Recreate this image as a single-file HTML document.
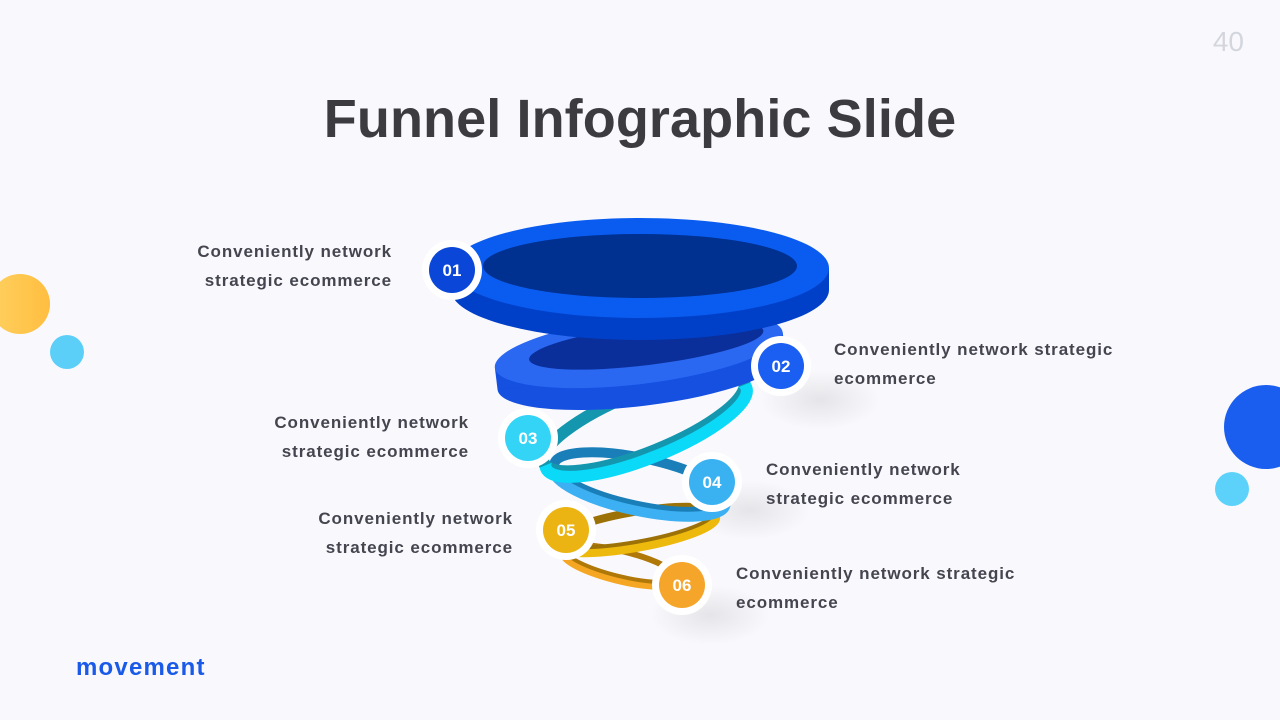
<!DOCTYPE html>
<html><head><meta charset="utf-8"><style>
html,body{margin:0;padding:0}
body{width:1280px;height:720px;background:#f9f9fd;position:relative;overflow:hidden;font-family:"Liberation Sans",sans-serif}
.t{position:absolute;font-size:17px;font-weight:bold;color:#454550;line-height:29px;letter-spacing:0.9px;white-space:nowrap}
.r{text-align:right}
h1{position:absolute;left:0;width:1280px;top:88px;margin:0;text-align:center;font-size:54px;font-weight:bold;color:#3b3b40;letter-spacing:0.1px}
</style></head><body>
<div style="position:absolute;right:36px;top:26px;font-size:28px;color:#d4d6de">40</div>
<h1>Funnel Infographic Slide</h1>
<svg width="1280" height="720" style="position:absolute;left:0;top:0">
<defs>
<radialGradient id="sh"><stop offset="0" stop-color="#000" stop-opacity="0.08"/><stop offset="1" stop-color="#000" stop-opacity="0"/></radialGradient>
<linearGradient id="y1" x1="0" x2="1"><stop offset="0" stop-color="#ffd060"/><stop offset="1" stop-color="#ffbe40"/></linearGradient>
<clipPath id="lo"><rect x="-200" y="0" width="400" height="100"/></clipPath>
</defs>
<circle cx="20" cy="304" r="30" fill="url(#y1)"/>
<circle cx="67" cy="352" r="17" fill="#5ccff8"/>
<circle cx="1266" cy="427" r="42" fill="#1a5ef0"/>
<circle cx="1232" cy="489" r="17" fill="#5cd2fa"/>
<ellipse cx="820" cy="400" rx="60" ry="30" fill="url(#sh)"/>
<ellipse cx="750" cy="510" rx="60" ry="30" fill="url(#sh)"/>
<ellipse cx="710" cy="615" rx="60" ry="30" fill="url(#sh)"/>
<g transform="translate(620 566) rotate(14)">
<ellipse cx="0" cy="-2" rx="58" ry="13" fill="none" stroke="#b07808" stroke-width="6"/>
<ellipse cx="0" cy="2" rx="58" ry="13" fill="none" stroke="#f5a623" stroke-width="6" clip-path="url(#lo)"/>
</g>
<g transform="translate(635 530) rotate(-10)">
<ellipse cx="0" cy="-2" rx="82" ry="16" fill="none" stroke="#9c7208" stroke-width="8"/>
<ellipse cx="0" cy="2" rx="82" ry="16" fill="none" stroke="#ecb90c" stroke-width="8" clip-path="url(#lo)"/>
</g>
<g transform="translate(640 484) rotate(12)">
<ellipse cx="0" cy="-2" rx="88" ry="24" fill="none" stroke="#1a7fb8" stroke-width="10"/>
<ellipse cx="0" cy="3" rx="88" ry="24" fill="none" stroke="#3cb0f2" stroke-width="10" clip-path="url(#lo)"/>
</g>
<g transform="translate(645 425) rotate(-22)">
<ellipse cx="0" cy="-3" rx="108" ry="30" fill="none" stroke="#1496ae" stroke-width="12"/>
<ellipse cx="0" cy="3" rx="108" ry="30" fill="none" stroke="#0ad9f8" stroke-width="12" clip-path="url(#lo)"/>
</g>
<g transform="rotate(-7 640 360)">
<ellipse cx="640" cy="372" rx="145" ry="34" fill="#1550e0"/>
<rect x="495" y="350" width="290" height="22" fill="#1550e0"/>
<ellipse cx="640" cy="350" rx="145" ry="34" fill="#2a68f2"/>
<ellipse cx="648" cy="346" rx="118" ry="20" fill="#0a2e9a"/>
</g>
<ellipse cx="640" cy="290" rx="189" ry="50" fill="#0040c8"/>
<rect x="451" y="268" width="378" height="22" fill="#0040c8"/>
<ellipse cx="640" cy="268" rx="189" ry="50" fill="#0a5cf0"/>
<ellipse cx="640" cy="266" rx="157" ry="32" fill="#003090"/>
<g font-family="Liberation Sans" font-weight="bold" font-size="17" fill="#fff" text-anchor="middle">
<circle cx="452" cy="270" r="30" fill="#fff"/><circle cx="452" cy="270" r="23" fill="#0a46d8"/><text x="452" y="276">01</text>
<circle cx="781" cy="366" r="30" fill="#fff"/><circle cx="781" cy="366" r="23" fill="#1a5ef2"/><text x="781" y="372">02</text>
<circle cx="528" cy="438" r="30" fill="#fff"/><circle cx="528" cy="438" r="23" fill="#34d4f6"/><text x="528" y="444">03</text>
<circle cx="712" cy="482" r="30" fill="#fff"/><circle cx="712" cy="482" r="23" fill="#3ab2f2"/><text x="712" y="488">04</text>
<circle cx="566" cy="530" r="30" fill="#fff"/><circle cx="566" cy="530" r="23" fill="#ebb412"/><text x="566" y="536">05</text>
<circle cx="682" cy="585" r="30" fill="#fff"/><circle cx="682" cy="585" r="23" fill="#f5a52a"/><text x="682" y="591">06</text>
</g>
</svg>
<div class="t r" style="right:888px;top:237px">Conveniently network<br>strategic ecommerce</div>
<div class="t" style="left:834px;top:335px">Conveniently network strategic<br>ecommerce</div>
<div class="t r" style="right:811px;top:408px">Conveniently network<br>strategic ecommerce</div>
<div class="t" style="left:766px;top:455px">Conveniently network<br>strategic ecommerce</div>
<div class="t r" style="right:767px;top:504px">Conveniently network<br>strategic ecommerce</div>
<div class="t" style="left:736px;top:559px">Conveniently network strategic<br>ecommerce</div>
<div style="position:absolute;left:76px;top:654px;font-size:24px;font-weight:bold;color:#1a5ae8;letter-spacing:1.2px">movement</div>
</body></html>
